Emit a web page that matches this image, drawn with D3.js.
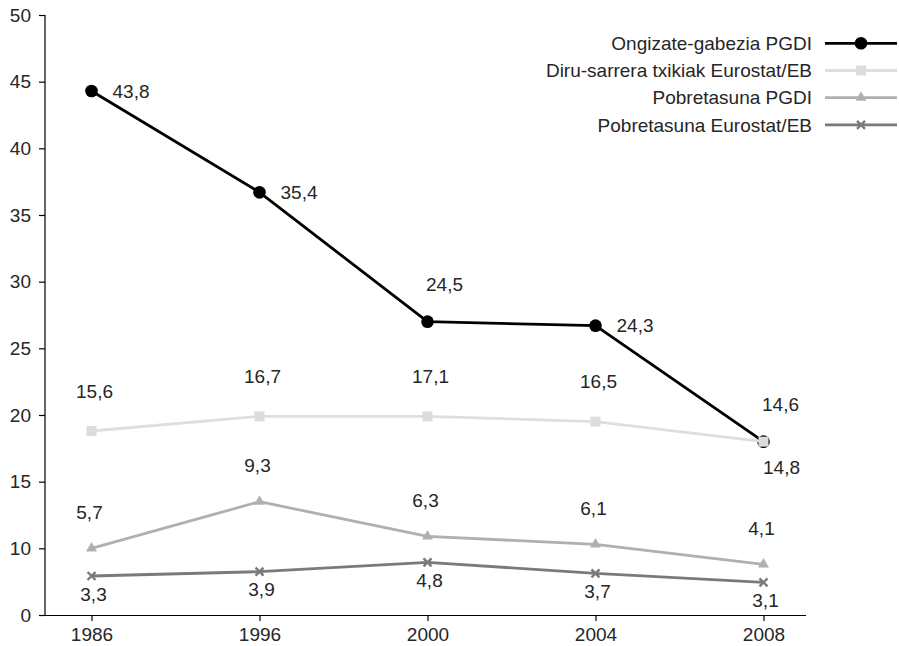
<!DOCTYPE html>
<html>
<head>
<meta charset="utf-8">
<script src="https://cdn.jsdelivr.net/npm/d3@7"></script>
<style>
  html, body { margin: 0; padding: 0; background: #fff; }
  svg { display: block; font-family: "Liberation Sans", Arial, Helvetica, sans-serif; }
</style>
</head>
<body>
<svg id="chart" width="899" height="646"></svg>
<script>
// ---- data ----
const years = ["1986", "1996", "2000", "2004", "2008"];
const seriesNames = [
  "Ongizate-gabezia PGDI",
  "Diru-sarrera txikiak Eurostat/EB",
  "Pobretasuna PGDI",
  "Pobretasuna Eurostat/EB"
];
// plotted positions (axis units)
const ongizateValues = [44.3, 36.7, 27.0, 26.7, 18.0];
const diruValues     = [18.8, 19.9, 19.9, 19.5, 18.0];
const pobPGDIValues  = [10.0, 13.5, 10.9, 10.3, 7.6];
const pobEuroValues  = [5.85, 6.5, 7.9, 6.25, 4.9];
// printed data labels
const ongizateLabels = ["43,8", "35,4", "24,5", "24,3", "14,6"];
const diruLabels     = ["15,6", "16,7", "17,1", "16,5", "14,8"];
const pobPGDILabels  = ["5,7", "9,3", "6,3", "6,1", "4,1"];
const pobEuroLabels  = ["3,3", "3,9", "4,8", "3,7", "3,1"];
const yTickValues = [0, 10, 15, 20, 25, 30, 35, 40, 45, 50];

// ---- layout / style ----
const W = 899, H = 646;
const plot = { left: 45, right: 806, top: 15, bottom: 615 };
const firstX = 91.5, lastX = 763.5;
const textColor = "#262626";
const fontSize = 19;

const styles = [
  { color: "#000000", fill: "#000000", marker: "circle",   labelPos: ["right", "right", "above", "right", "above"], above: [17, -37], below: [0, 20] },
  { color: "#dedede", fill: "#dcdcdc", marker: "square",   labelPos: ["above", "above", "above", "above", "below"], above: [3, -40], below: [18, 26] },
  { color: "#b0b0b0", fill: "#b0b0b0", marker: "triangle", labelPos: ["above", "above", "above", "above", "above"], above: [-2, -36], below: [0, 20] },
  { color: "#7a7a7a", fill: "#7a7a7a", marker: "x",        labelPos: ["below", "below", "below", "below", "below"], above: [0, -30], below: [2, 18] }
];

const allValues = [ongizateValues, diruValues, pobPGDIValues, pobEuroValues];
const allLabels = [ongizateLabels, diruLabels, pobPGDILabels, pobEuroLabels];
const series = seriesNames.map((name, i) => ({
  name, values: allValues[i], labels: allLabels[i], style: styles[i]
}));

const svg = d3.select("#chart");

// scales: the bottom step of the axis (0 -> 10) is shown at the same height as a 5-unit step
const step = (plot.bottom - plot.top) / 9;
const x = d3.scalePoint().domain(years).range([firstX, lastX]);
const y = d3.scaleLinear().domain([0, 10, 50]).range([plot.bottom, plot.bottom - step, plot.top]);

// axes
const xAxis = svg.append("g")
  .attr("transform", `translate(0,${plot.bottom})`)
  .call(d3.axisBottom(x).tickSize(6).tickPadding(7));
xAxis.select(".domain").remove();
xAxis.append("line")
  .attr("x1", plot.left).attr("x2", plot.right)
  .attr("y1", 0.5).attr("y2", 0.5)
  .attr("stroke", "#000").attr("stroke-width", 1.2);

const yAxis = svg.append("g")
  .attr("transform", `translate(${plot.left},0)`)
  .call(d3.axisLeft(y).tickValues(yTickValues).tickFormat(d3.format("d")).tickSize(6).tickPadding(8));
yAxis.select(".domain").remove();
yAxis.append("line")
  .attr("x1", 0).attr("x2", 0)
  .attr("y1", plot.top).attr("y2", plot.bottom + 0.5)
  .attr("stroke", "#000").attr("stroke-width", 1.2);

svg.selectAll(".tick line").attr("stroke", "#000").attr("stroke-width", 1.2);
svg.selectAll(".tick text")
  .attr("fill", textColor)
  .style("font-size", fontSize + "px")
  .style("font-family", "'Liberation Sans', Arial, sans-serif");

// marker drawing
function drawMarker(g, type, cx, cy, s) {
  if (type === "circle") {
    g.append("path").attr("d", d3.symbol().type(d3.symbolCircle).size(125)())
      .attr("transform", `translate(${cx},${cy})`).attr("fill", s.fill);
  } else if (type === "square") {
    g.append("path").attr("d", d3.symbol().type(d3.symbolSquare).size(100)())
      .attr("transform", `translate(${cx},${cy})`).attr("fill", s.fill);
  } else if (type === "triangle") {
    g.append("path").attr("d", d3.symbol().type(d3.symbolTriangle).size(52)())
      .attr("transform", `translate(${cx},${cy})`).attr("fill", s.fill);
  } else if (type === "x") {
    const r = 4;
    g.append("path").attr("d", `M${-r},${-r}L${r},${r}M${-r},${r}L${r},${-r}`)
      .attr("transform", `translate(${cx},${cy})`)
      .attr("stroke", s.fill).attr("stroke-width", 2.4).attr("fill", "none");
  }
}

const line = d3.line().x((d, i) => x(years[i])).y(d => y(d));

series.forEach(se => {
  const g = svg.append("g");
  g.append("path")
    .attr("d", line(se.values))
    .attr("fill", "none")
    .attr("stroke", se.style.color)
    .attr("stroke-width", 2.8)
    .attr("stroke-linejoin", "round");
  se.values.forEach((v, i) => drawMarker(g, se.style.marker, x(years[i]), y(v), se.style));
});

// data labels
series.forEach(se => {
  const g = svg.append("g");
  se.values.forEach((v, i) => {
    const px = x(years[i]), py = y(v);
    const pos = se.style.labelPos[i];
    let tx, ty, anchor;
    if (pos === "right") { tx = px + 21; ty = py; anchor = "start"; }
    else if (pos === "above") { tx = px + se.style.above[0]; ty = py + se.style.above[1]; anchor = "middle"; }
    else { tx = px + se.style.below[0]; ty = py + se.style.below[1]; anchor = "middle"; }
    g.append("text")
      .attr("x", tx).attr("y", ty)
      .attr("dy", "0.35em")
      .attr("text-anchor", anchor)
      .attr("fill", textColor)
      .style("font-size", fontSize + "px")
      .text(se.labels[i]);
  });
});

// legend
const legend = svg.append("g");
const legY0 = 43.3, legStep = 27.2;
series.forEach((se, i) => {
  const ly = legY0 + i * legStep;
  legend.append("text")
    .attr("x", 812).attr("y", ly).attr("dy", "0.35em")
    .attr("text-anchor", "end")
    .attr("fill", textColor)
    .style("font-size", fontSize + "px")
    .text(se.name);
  legend.append("line")
    .attr("x1", 825).attr("x2", 897).attr("y1", ly).attr("y2", ly)
    .attr("stroke", se.style.color).attr("stroke-width", 2.8);
  drawMarker(legend, se.style.marker, 861, ly, se.style);
});
</script>
</body>
</html>
